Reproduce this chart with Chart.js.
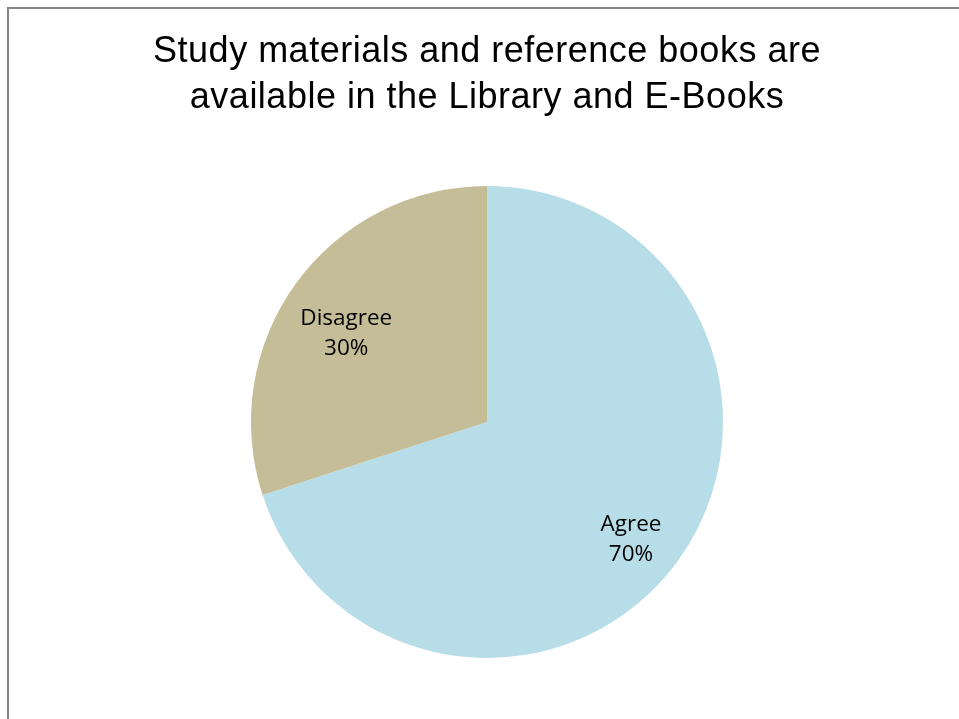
<!DOCTYPE html>
<html lang="en">
<head>
  <meta charset="UTF-8">
  <title>pie</title>
  <script src="https://cdn.jsdelivr.net/npm/chart.js@4.4.0/dist/chart.umd.min.js"></script>
  <style>
    html, body { margin: 0; padding: 0; background: #fff; overflow: hidden; }
    .frame { position: absolute; left: 7px; top: 7px; width: 1200px; height: 1000px;
      border: 2px solid #868686; box-sizing: border-box; }
    .chart-box { position: absolute; left: 0; top: 0; width: 959px; height: 719px; }
  </style>
</head>
<body>
  <div class="frame"></div>
  <div class="chart-box">
    <canvas id="chart_pie"></canvas>
  </div>

  <script>
    // data
    var categories = ['Agree', 'Disagree'];
    var values = [70, 30];
    var sliceColors = ['#b7dde8', '#c4bd97'];
    var titleLines = ['Study materials and reference books are', 'available in the Library and E-Books'];

    // slightly looser title tracking
    var titleSpacing = {
      id: 'titleSpacing',
      beforeDraw: function(chart) { chart.ctx.letterSpacing = '0.5px'; },
      beforeDatasetsDraw: function(chart) { chart.ctx.letterSpacing = '0px'; }
    };

    // inside labels, Excel style (name + percent)
    var sliceLabels = {
      id: 'sliceLabels',
      afterDatasetsDraw: function(chart, args, opts) {
        var ctx = chart.ctx;
        var meta = chart.getDatasetMeta(0);
        var ds = chart.data.datasets[0];
        var sum = ds.data.reduce(function(a, b) { return a + b; }, 0);
        ctx.save();
        ctx.letterSpacing = '0px';
        ctx.font = opts.font;
        ctx.fillStyle = opts.color;
        ctx.textAlign = 'center';
        ctx.textBaseline = 'middle';
        meta.data.forEach(function(arc, i) {
          var mid = (arc.startAngle + arc.endAngle) / 2;
          var r = arc.outerRadius * opts.radius[i];
          var x = arc.x + Math.cos(mid) * r;
          var y = arc.y + Math.sin(mid) * r + opts.shiftY;
          var perc = Math.round(100 * ds.data[i] / sum) + '%';
          ctx.fillText(chart.data.labels[i], x, y - opts.lineGap / 2);
          ctx.fillText(perc, x, y + opts.lineGap / 2);
        });
        ctx.restore();
      }
    };

    var ctx = document.getElementById('chart_pie').getContext('2d');
    var chart = new Chart(ctx, {
      type: 'pie',
      data: {
        labels: categories,
        datasets: [{
          data: values,
          backgroundColor: sliceColors,
          borderWidth: 0
        }]
      },
      options: {
        responsive: true,
        maintainAspectRatio: false,
        animation: false,
        layout: { padding: { left: 15, right: 0, top: 5, bottom: 61 } },
        plugins: {
          legend: { display: false },
          tooltip: { enabled: false },
          title: {
            display: true,
            text: titleLines,
            color: '#000',
            font: { family: 'Liberation Sans, Arial, sans-serif', size: 36, weight: 'normal', lineHeight: 1.29 },
            padding: { top: 23.5, bottom: 64.6 }
          },
          sliceLabels: {
            font: '22.5px "Open Sans", sans-serif',
            color: '#000',
            lineGap: 30,
            shiftY: 13.5,
            radius: [0.754, 0.737]
          }
        }
      },
      plugins: [titleSpacing, sliceLabels]
    });
  </script>
</body>
</html>
